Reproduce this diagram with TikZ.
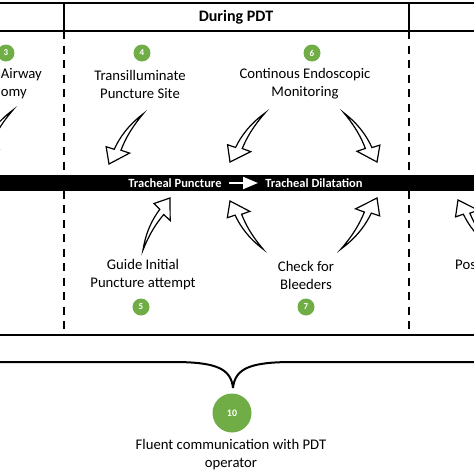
\documentclass[tikz,border=0pt]{standalone}
\usepackage{fontspec}
\setmainfont{Carlito}
\usepackage{tikz}
\usetikzlibrary{calc,arrows}

\definecolor{stepgreen}{RGB}{112,173,71}

% curved block arrow from #1 to #2, bulging to side #3 (1 or -1)
\newcommand{\bentarrow}[3]{%
  \pgfpointdiff{\pgfpointanchor{#1}{center}}{\pgfpointanchor{#2}{center}}%
  \pgfgetlastxy{\bax}{\bay}%
  \pgfmathsetlengthmacro{\bayx}{-(#3)*(\bay)}%
  \pgfmathsetlengthmacro{\bayy}{(#3)*(\bax)}%
  \begin{scope}[shift={(#1)}, x={(\bax,\bay)}, y={(\bayx,\bayy)}]
    \draw[bentarrow] (0,0) .. controls (0.3,0.1) and (0.55,0.1) .. (0.75,0.065)
      -- (0.79,0.2) -- (1,0) -- (0.66,-0.18) -- (0.70,-0.035)
      .. controls (0.5,0.01) and (0.3,0.03) .. (0,0) -- cycle;
  \end{scope}}

\tikzset{
  stepnum/.style={circle, fill=stepgreen, text=white, font=\bfseries\fontsize{9}{9}\selectfont, minimum size=17pt, inner sep=0pt},
  steptext/.style={align=center, font=\fontsize{14.7}{18}\selectfont},
  bartext/.style={text=white, font=\bfseries\fontsize{12.5}{12.5}\selectfont},
  bentarrow/.style={draw, fill=white, line width=1.2pt, line join=miter},
  frame/.style={line width=2pt},
  lane/.style={line width=2pt, dash pattern=on 8pt off 6.5pt},
}

\begin{document}
\begin{tikzpicture}[x=1pt,y=-1pt]
\useasboundingbox (0,0) rectangle (474,474);
\clip (0,0) rectangle (474,474);

% header and lanes
\draw[frame] (0,3) -- (474,3);
\draw[frame] (0,31) -- (474,31);
\draw[frame] (64,3) -- (64,31);
\draw[frame] (409,3) -- (409,31);
\draw[lane] (64,31) -- (64,335);
\draw[lane] (409,31) -- (409,335);
\draw[frame] (0,335) -- (474,335);
\node[font=\bfseries\fontsize{16}{16}\selectfont] (head) at (236,17) {During PDT};

% black bar
\fill (0,175) rectangle (474,191);
\node[bartext] (punct) at (175,183) {Tracheal Puncture};
\node[bartext] (dilat) at (314,183) {Tracheal Dilatation};
\draw[white, line width=2.5pt, -triangle 45, shorten <=4pt, shorten >=4pt] (punct) -- (dilat);

% steps
\node[stepnum] (n3) at (6,53) {3};
\node[stepnum] (n4) at (142,53) {4};
\node[stepnum] (n6) at (312,53) {6};
\node[stepnum] (n5) at (141,307) {5};
\node[stepnum] (n7) at (306,307) {7};
\node[stepnum, minimum size=39pt, font=\bfseries\fontsize{10}{10}\selectfont] (n10) at (232,413) {10};

\node[steptext, anchor=base east, inner sep=0pt] (t3a) at (42,78.5) {Airway};
\node[steptext, anchor=base east, inner sep=0pt] (t3b) at (27,96.5) {omy};
\node[steptext] (t4) at (140,84) {Transilluminate\\Puncture Site};
\node[steptext] (t6) at (305,84) {Continous Endoscopic\\Monitoring};
\node[steptext] (t5) at (143,275) {Guide Initial\\Puncture attempt};
\node[steptext] (t7) at (306,275) {Check for\\Bleeders};
\node[steptext, anchor=base west, inner sep=0pt] (t8) at (455,269.5) {Pos};
\node[steptext] (t10) at (231,455) {Fluent communication with PDT\\operator};

% block arrows
\coordinate (a3s) at (13,110);   \coordinate (a3e) at (-22,160);
\coordinate (a4s) at (143,114);  \coordinate (a4e) at (109,164);
\coordinate (a6ls) at (265,113); \coordinate (a6le) at (230,162);
\coordinate (a6rs) at (344,113); \coordinate (a6re) at (377,162);
\coordinate (a5s) at (143,250);  \coordinate (a5e) at (170,198);
\coordinate (a7ls) at (263,249); \coordinate (a7le) at (230,201);
\coordinate (a7rs) at (341,249); \coordinate (a7re) at (377,198);
\coordinate (a8s) at (492,248);  \coordinate (a8e) at (458,200);
\bentarrow{a3s}{a3e}{-1}
\bentarrow{a4s}{a4e}{-1}
\bentarrow{a6ls}{a6le}{-1}
\bentarrow{a6rs}{a6re}{1}
\bentarrow{a5s}{a5e}{1}
\bentarrow{a7ls}{a7le}{1}
\bentarrow{a7rs}{a7re}{-1}
\bentarrow{a8s}{a8e}{1}

% brace to step 10
\coordinate (tip) at (233,388);
\draw[frame] (0,362) -- (173,362) .. controls (215,362) and (231,368) .. (tip);
\draw[frame] (474,362) -- (293,362) .. controls (251,362) and (235,368) .. (tip);
\end{tikzpicture}
\end{document}
